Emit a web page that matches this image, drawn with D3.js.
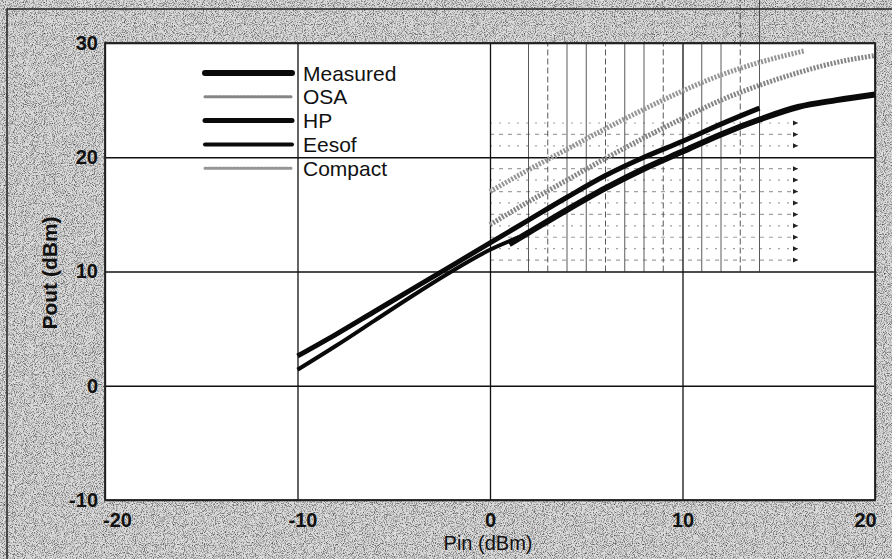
<!DOCTYPE html>
<html>
<head>
  <meta charset="utf-8">
  <title>Pout vs Pin</title>
  <script src="https://d3js.org/d3.v7.min.js"></script>
  <style>
    body { margin: 0; background: #d6d6d6; }
    text { font-family: "Liberation Sans", Arial, sans-serif; fill: #111; }
    .tick text { font-size: 20px; font-weight: bold; }
    .legend text { font-size: 21px; }
  </style>
</head>
<body>
<script>

  // axis ticks
  var xTicks = [-20, -10, 0, 10, 20];
  var yTicks = [-10, 0, 10, 20, 30];

  // curves: [Pin, Pout]
  var measured = [[1, 12.4], [2, 13.4], [4, 15.4], [6, 17.3], [8, 19.0], [10, 20.5],
                  [12, 22.0], [14, 23.3], [16, 24.4], [18, 25.0], [20, 25.5]];
  var osa = [[0, 14.1], [2, 16.1], [4, 18.0], [6, 19.9], [8, 21.7], [10, 23.4],
             [12, 25.0], [14, 26.3], [16, 27.4], [18, 28.3], [20, 28.9]];
  var hp = [[-10, 2.6], [-8, 4.5], [-6, 6.5], [-4, 8.5], [-2, 10.5], [0, 12.5],
            [2, 14.5], [4, 16.5], [6, 18.4], [8, 20.0], [10, 21.4], [12, 22.9], [14, 24.3]];
  var eesof = [[-10, 1.4], [-8, 3.5], [-6, 5.7], [-4, 7.9], [-2, 10.0], [0, 11.9], [1.5, 13.0]];
  var compact = [[0, 17.0], [2, 18.9], [4, 20.7], [6, 22.5], [8, 24.2], [10, 25.8],
                 [12, 27.2], [14, 28.3], [16.3, 29.3]];

  // faint leftover grid lines visible in the scan
  var ghostX = [2, 3, 4, 5, 6, 7, 8, 9, 11, 12, 13, 14];
  var ghostY = [11, 12, 13, 14, 15, 16, 17, 18, 19, 21, 22, 23];

  var series = [
    {name: "Measured", data: measured, color: "#0a0a0a", width: 6, dash: null, legW: 6},
    {name: "OSA", data: osa, color: "#858585", width: 5, dash: "2,1.5", legW: 3},
    {name: "HP", data: hp, color: "#0a0a0a", width: 5, dash: null, legW: 5},
    {name: "Eesof", data: eesof, color: "#0a0a0a", width: 4, dash: null, legW: 4},
    {name: "Compact", data: compact, color: "#959595", width: 5, dash: "2,1.5", legW: 3}
  ];

  var W = 892, H = 559;
  var pL = 105, pR = 875, pT = 43, pB = 500;

  var svg = d3.select("body").append("svg")
      .attr("width", W)
      .attr("height", H);

  // speckled paper background
  var defs = svg.append("defs");
  var f = defs.append("filter").attr("id", "grain")
      .attr("x", 0).attr("y", 0).attr("width", "100%").attr("height", "100%");
  f.append("feTurbulence").attr("type", "fractalNoise")
      .attr("baseFrequency", 1.1).attr("numOctaves", 1).attr("seed", 3);
  f.append("feColorMatrix").attr("type", "matrix")
      .attr("values", "0 0 0 0 0  0 0 0 0 0  0 0 0 0 0  1.8 0 0 0 -0.8");

  svg.append("rect").attr("width", W).attr("height", H).attr("fill", "#dcdcdc");
  svg.append("rect").attr("width", W).attr("height", H).attr("filter", "url(#grain)");

  // outer border of the scan
  svg.append("path")
      .attr("d", "M7," + H + "V9H" + W)
      .attr("fill", "none").attr("stroke", "#222").attr("stroke-width", 1.5);

  var x = d3.scaleLinear().domain([-20, 20]).range([pL, pR]);
  var y = d3.scaleLinear().domain([-10, 30]).range([pB, pT]);

  svg.append("rect")
      .attr("x", pL).attr("y", pT)
      .attr("width", pR - pL).attr("height", pB - pT)
      .attr("fill", "#fff");

  // ghost lines
  svg.append("g").selectAll("line")
      .data(ghostX)
    .enter().append("line")
      .attr("x1", function(d) { return x(d); })
      .attr("x2", function(d) { return x(d); })
      .attr("y1", y(10))
      .attr("y2", function(d) { return d >= 13 ? 0 : y(30); })
      .attr("stroke", "#222")
      .attr("stroke-width", 1)
      .attr("stroke-dasharray", function(d, i) { return i % 3 == 1 ? "6,3" : null; })
      .attr("opacity", 0.75);

  svg.append("g").selectAll("line")
      .data(ghostY)
    .enter().append("line")
      .attr("x1", x(0))
      .attr("x2", x(16))
      .attr("y1", function(d) { return y(d); })
      .attr("y2", function(d) { return y(d); })
      .attr("stroke", "#333")
      .attr("stroke-width", 1.2)
      .attr("stroke-dasharray", function(d, i) { return i % 2 ? "2,7" : "4,5"; })
      .attr("opacity", 0.45);

  svg.append("g").selectAll("path")
      .data(ghostY)
    .enter().append("path")
      .attr("d", function(d) { return "M" + (x(16) - 5) + "," + (y(d) - 2.5) + "l5,2.5l-5,2.5z"; })
      .attr("fill", "#222");

  // grid + ticks
  var xAxis = svg.append("g")
      .attr("transform", "translate(0," + pB + ")")
      .call(d3.axisBottom(x).tickValues(xTicks).tickSize(-(pB - pT)).tickPadding(8)
        .tickFormat(function(d) { return d; }));
  var yAxis = svg.append("g")
      .attr("transform", "translate(" + pL + ",0)")
      .call(d3.axisLeft(y).tickValues(yTicks).tickSize(-(pR - pL)).tickPadding(7)
        .tickFormat(function(d) { return d; }));

  [xAxis, yAxis].forEach(function(a) {
    a.select(".domain").remove();
    a.selectAll(".tick line").attr("stroke", "#111").attr("stroke-width", 1.3);
    a.selectAll(".tick text").attr("fill", "#111");
  });
  xAxis.selectAll(".tick text").attr("dy", "0.95em")
      .attr("dx", function(d) { return d == -20 ? 12 : (d == 20 ? -10 : (d == -10 ? 5 : 0)); });

  svg.append("rect")
      .attr("x", pL).attr("y", pT)
      .attr("width", pR - pL).attr("height", pB - pT)
      .attr("fill", "none").attr("stroke", "#222").attr("stroke-width", 1.8);

  // curves
  var line = d3.line()
      .x(function(d) { return x(d[0]); })
      .y(function(d) { return y(d[1]); })
      .curve(d3.curveMonotoneX);

  var drawOrder = [series[1], series[4], series[3], series[2], series[0]];
  svg.append("g").selectAll("path")
      .data(drawOrder)
    .enter().append("path")
      .attr("d", function(d) { return line(d.data); })
      .attr("fill", "none")
      .attr("stroke", function(d) { return d.color; })
      .attr("stroke-width", function(d) { return d.width; })
      .attr("stroke-dasharray", function(d) { return d.dash; })
      .attr("stroke-linecap", "butt");

  // legend
  var leg = svg.append("g").attr("class", "legend");
  var legItem = leg.selectAll("g")
      .data(series)
    .enter().append("g")
      .attr("transform", function(d, i) { return "translate(0," + (73 + i * 23.8) + ")"; });
  legItem.append("line")
      .attr("x1", 205).attr("x2", 292)
      .attr("stroke", function(d) { return d.color; })
      .attr("stroke-width", function(d) { return d.legW; })
      .attr("stroke-dasharray", function(d) { return d.dash; })
      .attr("stroke-linecap", "round");
  legItem.append("text")
      .attr("x", 303).attr("dy", "0.36em")
      .text(function(d) { return d.name; });

  // axis titles
  svg.append("text")
      .attr("x", 488).attr("y", 550)
      .attr("text-anchor", "middle")
      .style("font-size", "20px")
      .text("Pin (dBm)");

  svg.append("text")
      .attr("transform", "translate(57,273) rotate(-90)")
      .attr("text-anchor", "middle")
      .style("font-size", "21px")
      .style("font-weight", "600")
      .text("Pout (dBm)");

</script>
</body>
</html>
